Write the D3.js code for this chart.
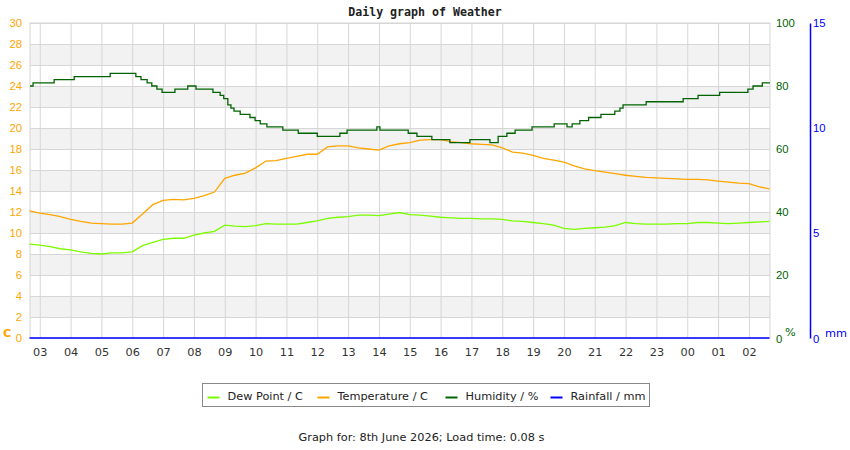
<!DOCTYPE html>
<html>
<head>
<meta charset="utf-8">
<script src="https://cdn.jsdelivr.net/npm/d3@7"></script>
<style>
  body { margin: 0; background: #fff; }
  svg { display: block; font-family: "DejaVu Sans", sans-serif; }
</style>
</head>
<body>
<svg id="chart" width="850" height="450"></svg>
<script>
// 20-minute readings, 02:40 on the 7th to 02:40 on the 8th
const temperature = [
  12.1, 11.9, 11.75, 11.55, 11.3, 11.1, 10.95, 10.9, 10.85, 10.85,
  10.95, 11.8, 12.7, 13.1, 13.2, 13.15, 13.3, 13.55, 13.9, 15.2,
  15.5, 15.7, 16.2, 16.85, 16.9, 17.1, 17.3, 17.5, 17.5, 18.2,
  18.3, 18.3, 18.1, 18.0, 17.9, 18.3, 18.5, 18.6, 18.85, 18.9,
  18.9, 18.7, 18.6, 18.5, 18.45, 18.4, 18.1, 17.7, 17.6, 17.4,
  17.1, 16.95, 16.75, 16.4, 16.1, 15.95, 15.8, 15.65, 15.5, 15.4,
  15.3, 15.25, 15.2, 15.15, 15.1, 15.1, 15.05, 14.95, 14.85, 14.75,
  14.7, 14.4, 14.2
];
const dewPoint = [
  8.95, 8.85, 8.7, 8.5, 8.4, 8.2, 8.05, 8.0, 8.1, 8.1,
  8.2, 8.8, 9.1, 9.4, 9.5, 9.5, 9.8, 10.0, 10.15, 10.75,
  10.65, 10.6, 10.7, 10.9, 10.85, 10.85, 10.85, 11.0, 11.15, 11.4,
  11.5, 11.55, 11.7, 11.7, 11.65, 11.8, 11.95, 11.75, 11.7, 11.6,
  11.5, 11.45, 11.4, 11.4, 11.35, 11.35, 11.3, 11.15, 11.1, 11.0,
  10.9, 10.75, 10.45, 10.35, 10.45, 10.5, 10.55, 10.7, 11.0, 10.9,
  10.85, 10.85, 10.85, 10.9, 10.9, 11.0, 11.0, 10.95, 10.9, 10.95,
  11.0, 11.05, 11.1
];
const rainfall = [
  0, 0, 0, 0, 0, 0, 0, 0, 0, 0, 0, 0, 0, 0, 0, 0, 0, 0, 0, 0, 0, 0, 0, 0,
  0, 0, 0, 0, 0, 0, 0, 0, 0, 0, 0, 0, 0, 0, 0, 0, 0, 0, 0, 0, 0, 0, 0, 0,
  0, 0, 0, 0, 0, 0, 0, 0, 0, 0, 0, 0, 0, 0, 0, 0, 0, 0, 0, 0, 0, 0, 0, 0, 0
];

// humidity only changes in whole steps, so keep the change points
const humidityTimes = [
  "02:41", "02:47", "03:28", "04:07", "05:17", "06:07", "06:17", "06:29", "06:38", "06:48",
  "06:58", "07:23", "07:48", "08:04", "08:37", "08:51", "08:58", "09:06", "09:12", "09:18",
  "09:30", "09:49", "09:59", "10:09", "10:22", "10:53", "11:23", "12:00", "12:44", "12:58",
  "13:56", "14:02", "14:57", "15:14", "15:43", "16:18", "16:57", "17:36", "17:52", "18:09",
  "18:25", "18:58", "19:41", "20:06", "20:16", "20:31", "20:48", "21:12", "21:39", "21:49",
  "21:55", "22:40", "23:52", "00:21", "01:03", "01:58", "02:08", "02:26", "02:41"
];
const humidity = [
  80, 81, 82, 83, 84, 83, 82, 81, 80, 79,
  78, 79, 80, 79, 78, 77, 76, 74, 73, 72,
  71, 70, 69, 68, 67, 66, 65, 64, 65, 66,
  67, 66, 65, 64, 63, 62, 63, 62, 64, 65,
  66, 67, 68, 67, 68, 69, 70, 71, 72, 73,
  74, 75, 76, 77, 78, 79, 80, 81, 81
];

const tempTicks = d3.range(0, 31, 2);
const humTicks = [0, 20, 40, 60, 80, 100];
const rainTicks = [0, 5, 10, 15];

const series = [
  { label: "Dew Point / C", color: "#7cfc00" },
  { label: "Temperature / C", color: "#ffa500" },
  { label: "Humidity / %", color: "#006400" },
  { label: "Rainfall / mm", color: "#0000ff" }
];

const start = new Date(2026, 5, 7, 2, 41);
const end = new Date(2026, 5, 8, 2, 41);
const readTimes = temperature.map((_, i) => new Date(2026, 5, 7, 2, 40 + i * 20));
const parseHM = (s, i) => {
  const [hh, mm] = s.split(":").map(Number);
  const d = new Date(2026, 5, 7, hh, mm);
  if (i > 0 && d <= start) d.setDate(8);
  return d;
};

const svg = d3.select("#chart");
const m = { top: 23, right: 80, bottom: 112, left: 30 };
const W = 850, H = 450;
const w = W - m.left - m.right;
const h = H - m.top - m.bottom;
const FS = 11.3;

const x = d3.scaleTime().domain([start, end]).range([0, w]);
const yT = d3.scaleLinear().domain([0, 30]).range([h, 0]);
const yH = d3.scaleLinear().domain([0, 100]).range([h, 0]);
const yR = d3.scaleLinear().domain([0, 15]).range([h, 0]);

const g = svg.append("g").attr("transform", `translate(${m.left},${m.top})`);

// alternating bands
g.selectAll(null).data(tempTicks.filter(t => t % 4 === 2 && t < 30)).enter().append("rect")
  .attr("x", 0).attr("width", w)
  .attr("y", d => yT(d + 2)).attr("height", d => yT(d) - yT(d + 2))
  .attr("fill", "#f2f2f2");

g.append("g")
  .call(d3.axisLeft(yT).tickValues(tempTicks).tickSize(-w).tickFormat(""))
  .call(a => a.select(".domain").remove())
  .call(a => a.selectAll("line").attr("stroke", "#d6d6d6"));

const hours = d3.timeHour.every(1).range(start, end);
g.append("g").attr("transform", `translate(0,${h})`)
  .call(d3.axisBottom(x).tickValues(hours).tickSize(-h).tickFormat(""))
  .call(a => a.select(".domain").remove())
  .call(a => a.selectAll("line").attr("stroke", "#d6d6d6"));

g.append("rect").attr("x", 0).attr("y", 0).attr("width", w).attr("height", h)
  .attr("fill", "none").attr("stroke", "#d6d6d6");

// hour labels
g.append("g").attr("transform", `translate(0,${h})`)
  .call(d3.axisBottom(x).tickValues(hours).tickSize(0).tickPadding(10).tickFormat(d3.timeFormat("%H")))
  .call(a => a.select(".domain").remove())
  .call(a => a.selectAll("text").attr("fill", "#333").attr("font-size", FS)
    .attr("font-family", "DejaVu Sans"));

// left axis, temperature
g.append("g")
  .call(d3.axisLeft(yT).tickValues(tempTicks).tickSize(0).tickPadding(8))
  .call(a => a.select(".domain").remove())
  .call(a => a.selectAll("text").attr("fill", "#ffa500").attr("font-size", FS));
g.append("text").attr("x", -27).attr("y", h - 1).attr("fill", "#ffa500")
  .attr("font-size", FS).attr("font-weight", "bold").text("C");

// right axis, humidity
g.append("g").attr("transform", `translate(${w},0)`)
  .call(d3.axisRight(yH).tickValues(humTicks).tickSize(0).tickPadding(6))
  .call(a => a.select(".domain").remove())
  .call(a => a.selectAll("text").attr("fill", "#006400").attr("font-size", FS)
    .attr("dy", d => d === 0 ? "0.4em" : "0.32em"));
g.append("text").attr("x", w + 15).attr("y", h - 2).attr("fill", "#006400")
  .attr("font-size", FS).text("%");

// far right axis, rainfall
g.append("g").attr("transform", `translate(${w + 40},0)`)
  .call(d3.axisRight(yR).tickValues(rainTicks).tickSize(0).tickPadding(3))
  .call(a => a.select(".domain").attr("stroke", "#0000ff").attr("stroke-width", 1.5))
  .call(a => a.selectAll("text").attr("fill", "#0000ff").attr("font-size", FS)
    .attr("dy", d => d === 0 ? "0.4em" : "0.32em"));
g.append("text").attr("x", w + 55).attr("y", h - 1).attr("fill", "#0000ff")
  .attr("font-size", FS).text("mm");

// lines
const line = y => d3.line().x((d, i) => x(readTimes[i])).y(d => y(d));
g.append("path").datum(dewPoint)
  .attr("fill", "none").attr("stroke", series[0].color).attr("stroke-width", 1.3)
  .attr("d", line(yT));
g.append("path").datum(temperature)
  .attr("fill", "none").attr("stroke", series[1].color).attr("stroke-width", 1.3)
  .attr("d", line(yT));

const humPts = humidity.map((v, i) => ({ t: parseHM(humidityTimes[i], i), v }));
g.append("path").datum(humPts)
  .attr("fill", "none").attr("stroke", series[2].color).attr("stroke-width", 1.3)
  .attr("d", d3.line().x(d => x(d.t)).y(d => yH(d.v)).curve(d3.curveStepAfter));

g.append("path").datum(rainfall)
  .attr("fill", "none").attr("stroke", series[3].color).attr("stroke-width", 1.5)
  .attr("d", line(yR));

// title
svg.append("text").attr("x", 425).attr("y", 15.5).attr("text-anchor", "middle")
  .attr("font-family", "DejaVu Sans Mono").attr("font-weight", "bold")
  .attr("font-size", 11.6).attr("fill", "#222").text("Daily graph of Weather");

// legend
const leg = svg.append("g").attr("transform", "translate(202.5,383.5)");
leg.append("rect").attr("width", 447).attr("height", 23)
  .attr("fill", "#fff").attr("stroke", "#888");
const legX = [5, 115, 243, 348];
series.forEach((s, i) => {
  const lg = leg.append("g").attr("transform", `translate(${legX[i]},0)`);
  lg.append("line").attr("x1", 0).attr("x2", 12).attr("y1", 14).attr("y2", 14)
    .attr("stroke", s.color).attr("stroke-width", 2);
  lg.append("text").attr("x", 20).attr("y", 16).attr("font-size", FS)
    .attr("fill", "#222").text(s.label);
});

svg.append("text").attr("x", 421.5).attr("y", 441).attr("text-anchor", "middle")
  .attr("font-size", FS).attr("fill", "#222")
  .text("Graph for: 8th June 2026; Load time: 0.08 s");
</script>
</body>
</html>
